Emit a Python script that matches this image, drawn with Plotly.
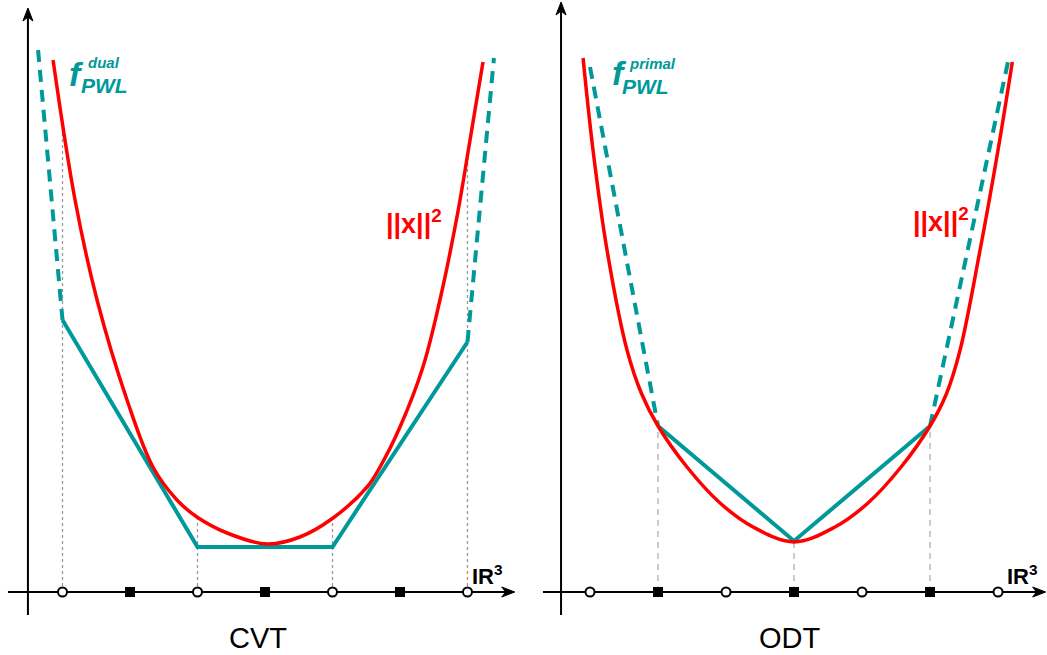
import plotly.graph_objects as go

# ---------------- data (u: sample units along IR^3, v: function value) -------------
# CVT panel
cvt_red_u = [-1.570, -1.407, -1.244, -1.022, -0.830, -0.652, -0.504, -0.281, 0.015,
             0.259, 0.504, 0.756, 0.852, 1.000, 1.170, 1.296, 1.422, 1.519, 1.615]
cvt_red_v = [5.32, 3.92, 2.92, 1.92, 1.25, 0.92, 0.75, 0.59, 0.48,
             0.55, 0.74, 1.05, 1.25, 1.65, 2.25, 2.92, 3.75, 4.52, 5.30]
cvt_samples_u = [-1.5, -0.5, 0.5, 1.5]          # circles
cvt_seeds_u = [-1.0, 0.0, 1.0]                  # squares
cvt_pwl_v = [2.72, 0.45, 0.45, 2.50]            # f_PWL^dual at samples
cvt_drop_v = [4.74, 0.75, 0.72, 4.44]           # ||x||^2 at samples (dotted guides)
cvt_dash_left_u = [-1.681, -1.5]
cvt_dash_left_v = [5.42, 2.72]
cvt_dash_right_u = [1.5, 1.696]
cvt_dash_right_v = [2.50, 5.34]

# ODT panel
odt_red_u = [-1.551, -1.478, -1.375, -1.228, -1.12, -1.0, -0.787, -0.544, -0.301, 0.0,
             0.301, 0.544, 0.787, 1.0, 1.12, 1.221, 1.368, 1.500, 1.605]
odt_red_v = [5.34, 4.42, 3.42, 2.42, 1.98, 1.66, 1.25, 0.89, 0.65, 0.50,
             0.65, 0.89, 1.25, 1.66, 1.98, 2.42, 3.42, 4.42, 5.30]
odt_samples_u = [-1.5, -0.5, 0.5, 1.5]          # circles
odt_seeds_u = [-1.0, 0.0, 1.0]                  # squares
odt_pwl_v = [1.66, 0.51, 1.66]                  # f_PWL^primal at seeds
odt_dash_left_u = [-1.5, -1.0]
odt_dash_left_v = [5.25, 1.66]
odt_dash_right_u = [1.0, 1.581]
odt_dash_right_v = [1.66, 5.35]

TEAL = "#009999"
RED = "#ff0000"
FONT = "Arial, Liberation Sans, sans-serif"

fig = go.Figure()


def add_panel(xa, red_u, red_v, samples_u, seeds_u, pwl_u, pwl_v, dashes, guide_u, guide_v, guide_style):
    for gu, gv in zip(guide_u, guide_v):
        fig.add_trace(go.Scatter(x=[gu, gu], y=[0, gv], mode="lines", xaxis=xa, yaxis="y",
                                 line=guide_style, hoverinfo="skip", showlegend=False))
    for du, dv in dashes:
        fig.add_trace(go.Scatter(x=du, y=dv, mode="lines", xaxis=xa, yaxis="y",
                                 line=dict(color=TEAL, width=4, dash="12px,8px"),
                                 hoverinfo="skip", showlegend=False))
    fig.add_trace(go.Scatter(x=pwl_u, y=pwl_v, mode="lines", xaxis=xa, yaxis="y",
                             line=dict(color=TEAL, width=4), hoverinfo="skip", showlegend=False))
    fig.add_trace(go.Scatter(x=red_u, y=red_v, mode="lines", xaxis=xa, yaxis="y",
                             line=dict(color=RED, width=3.5, shape="spline", smoothing=1.0),
                             hoverinfo="skip", showlegend=False))
    fig.add_trace(go.Scatter(x=samples_u, y=[0] * len(samples_u), mode="markers", xaxis=xa, yaxis="y",
                             marker=dict(symbol="circle", size=9, color="white",
                                         line=dict(color="black", width=2)),
                             hoverinfo="skip", showlegend=False))
    fig.add_trace(go.Scatter(x=seeds_u, y=[0] * len(seeds_u), mode="markers", xaxis=xa, yaxis="y",
                             marker=dict(symbol="square", size=10, color="black",
                                         line=dict(color="black", width=0)),
                             hoverinfo="skip", showlegend=False))


add_panel("x", cvt_red_u, cvt_red_v, cvt_samples_u, cvt_seeds_u,
          cvt_samples_u, cvt_pwl_v,
          [(cvt_dash_left_u, cvt_dash_left_v), (cvt_dash_right_u, cvt_dash_right_v)],
          cvt_samples_u, cvt_drop_v, dict(color="#999999", width=1.3, dash="dot"))

add_panel("x2", odt_red_u, odt_red_v, odt_samples_u, odt_seeds_u,
          odt_seeds_u, odt_pwl_v,
          [(odt_dash_left_u, odt_dash_left_v), (odt_dash_right_u, odt_dash_right_v)],
          odt_seeds_u, odt_pwl_v, dict(color="#bbbbbb", width=1.5, dash="6px,5px"))

# ---------------- axes with arrowheads (shapes) ----------------
shapes = []
annotations = []


def axis_lines(xref, h0, h1, vx, vtop, ux):
    # ux: data units per pixel horizontally; vertical: 0.01 per pixel
    hl, hw = 13 * ux, 0.05      # horizontal arrow: length, half width
    vl, vw = 0.13, 5 * ux       # vertical arrow
    shapes.append(dict(type="line", xref=xref, yref="y", x0=h0, x1=h1 - hl * 0.6, y0=0, y1=0,
                       line=dict(color="black", width=2), layer="below"))
    shapes.append(dict(type="line", xref=xref, yref="y", x0=vx, x1=vx, y0=-0.23, y1=vtop - vl * 0.6,
                       line=dict(color="black", width=2), layer="below"))
    shapes.append(dict(type="path", xref=xref, yref="y",
                       path=f"M {h1} 0 L {h1 - hl} {hw} L {h1 - hl * 0.7} 0 L {h1 - hl} {-hw} Z",
                       fillcolor="black", line=dict(color="black", width=1)))
    shapes.append(dict(type="path", xref=xref, yref="y",
                       path=f"M {vx} {vtop} L {vx - vw} {vtop - vl} L {vx} {vtop - vl * 0.7} L {vx + vw} {vtop - vl} Z",
                       fillcolor="black", line=dict(color="black", width=1)))


axis_lines("x", -1.904, 1.85, -1.756, 5.84, 1 / 135)
axis_lines("x2", -1.846, 1.85, -1.713, 5.90, 1 / 136)


def label(xref, x, y, text, size, color, bold=True, italic=False, xanchor="left"):
    t = text
    if bold:
        t = "<b>" + t + "</b>"
    if italic:
        t = "<i>" + t + "</i>"
    annotations.append(dict(x=x, y=y, xref=xref, yref="y", text=t, showarrow=False,
                            xanchor=xanchor, yanchor="middle",
                            font=dict(family=FONT, size=size, color=color)))


# CVT labels
label("x", -1.467, 5.185, "f", 34, TEAL, italic=True)
label("x", -1.326, 5.30, "dual", 15, TEAL, italic=True)
label("x", -1.375, 5.065, "PWL", 21, TEAL, italic=True)
label("x", 1.107, 3.705, "||x||<sup>2</sup>", 27, RED, xanchor="center")
label("x", 1.648, 0.17, "IR<sup>3</sup>", 22, "black", xanchor="center")
label("x", -0.052, -0.46, "CVT", 29, "black", bold=False, xanchor="center")

# ODT labels
label("x2", -1.353, 5.19, "f", 34, TEAL, italic=True)
label("x2", -1.228, 5.29, "primal", 15, TEAL, italic=True)
label("x2", -1.277, 5.06, "PWL", 21, TEAL, italic=True)
label("x2", 1.077, 3.72, "||x||<sup>2</sup>", 27, RED, xanchor="center")
label("x2", 1.680, 0.17, "IR<sup>3</sup>", 22, "black", xanchor="center")
label("x2", -0.029, -0.46, "ODT", 29, "black", bold=False, xanchor="center")

fig.update_layout(
    width=1047, height=655,
    margin=dict(l=0, r=0, t=0, b=0),
    paper_bgcolor="white", plot_bgcolor="white",
    showlegend=False,
    xaxis=dict(domain=[0, 0.5], range=[-1.963, 1.915], visible=False, fixedrange=True),
    xaxis2=dict(domain=[0.5, 1], range=[-1.989, 1.860], visible=False, fixedrange=True),
    yaxis=dict(domain=[0, 1], range=[-0.63, 5.92], visible=False, fixedrange=True),
    shapes=shapes,
    annotations=annotations,
)

fig.write_html("out.html")
